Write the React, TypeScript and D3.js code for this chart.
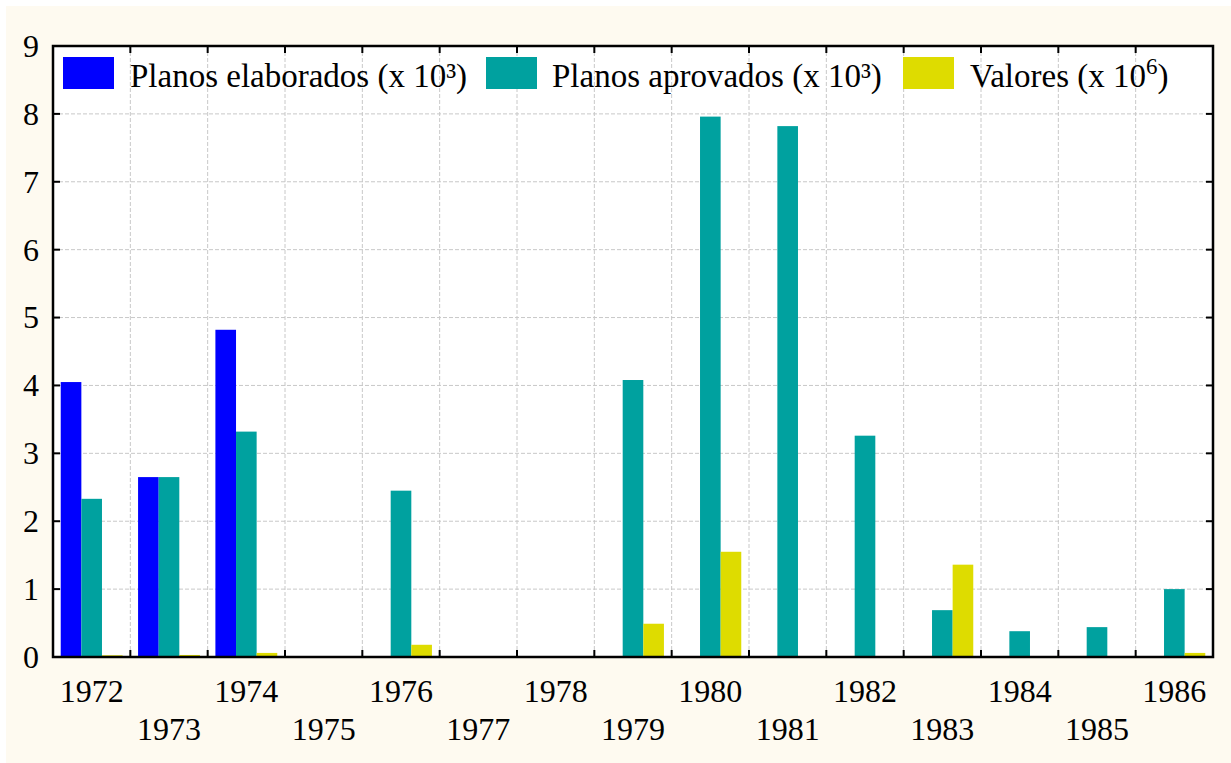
import * as d3 from 'd3';
import {useEffect, useRef} from 'react';

const years = ['1972','1973','1974','1975','1976','1977','1978','1979','1980','1981','1982','1983','1984','1985','1986'];
const planosElaborados = [4.05, 2.65, 4.82, 0, 0, 0, 0, 0, 0, 0, 0, 0, 0, 0, 0];
const planosAprovados = [2.33, 2.65, 3.32, 0, 2.45, 0, 0, 4.08, 7.96, 7.82, 3.26, 0.69, 0.38, 0.44, 1.0];
const valores = [0.025, 0.03, 0.06, 0, 0.18, 0, 0, 0.49, 1.55, 0, 0, 1.36, 0, 0, 0.06];
const yTicks = [0, 1, 2, 3, 4, 5, 6, 7, 8, 9];

const seriesNames = ['elab', 'aprov', 'val'];
const seriesColors = ['#0000ff', '#00a19f', '#dedc00'];

const W = 1231, H = 763;
const FONT = '"Liberation Serif", "Times New Roman", serif';

export default function App() {
  const ref = useRef<SVGSVGElement | null>(null);

  useEffect(() => {
    const svg = d3.select(ref.current);
    svg.selectAll('*').remove();

    const margin = {left: 53, top: 46, right: W - 1213, bottom: H - 657};
    const iw = W - margin.left - margin.right;
    const ih = H - margin.top - margin.bottom;

    // cream background
    svg.append('rect').attr('x', 6).attr('y', 6).attr('width', W - 6).attr('height', H - 6).attr('fill', '#fefaf0');

    const g = svg.append('g').attr('transform', `translate(${margin.left},${margin.top})`);
    g.append('rect').attr('width', iw).attr('height', ih).attr('fill', '#fff');

    const x0 = d3.scaleBand().domain(years).range([0, iw]).paddingInner(0.2).paddingOuter(0.1);
    const x1 = d3.scaleBand().domain(seriesNames).range([0, x0.bandwidth()]);
    const y = d3.scaleLinear().domain([0, 9]).range([ih, 0]);
    const step = x0.step();
    const boundaries = d3.range(1, years.length).map(i => i * step);

    // grid
    g.selectAll('.hgrid').data(yTicks.slice(1, -1)).enter().append('line')
      .attr('x1', 0).attr('x2', iw).attr('y1', d => y(d)).attr('y2', d => y(d))
      .attr('stroke', '#c8c8c8').attr('stroke-width', 1).attr('stroke-dasharray', '4,2');
    g.selectAll('.vgrid').data(boundaries).enter().append('line')
      .attr('x1', d => d).attr('x2', d => d).attr('y1', 0).attr('y2', ih)
      .attr('stroke', '#c8c8c8').attr('stroke-width', 1).attr('stroke-dasharray', '4,2');

    // bars
    const data = years.map((yr, i) => ({yr, vals: [planosElaborados[i], planosAprovados[i], valores[i]]}));
    const grp = g.selectAll('.grp').data(data).enter().append('g')
      .attr('transform', d => `translate(${x0(d.yr)},0)`);
    grp.selectAll('rect').data(d => d.vals.map((v, k) => ({v, k}))).enter().append('rect')
      .attr('x', d => x1(seriesNames[d.k])!)
      .attr('width', x1.bandwidth())
      .attr('y', d => y(d.v))
      .attr('height', d => ih - y(d.v))
      .attr('fill', d => seriesColors[d.k]);

    // ticks (inward)
    const tk = 7;
    yTicks.slice(1, -1).forEach(t => {
      g.append('line').attr('x1', 0).attr('x2', tk).attr('y1', y(t)).attr('y2', y(t)).attr('stroke', '#000').attr('stroke-width', 2);
      g.append('line').attr('x1', iw - tk).attr('x2', iw).attr('y1', y(t)).attr('y2', y(t)).attr('stroke', '#000').attr('stroke-width', 2);
    });
    boundaries.forEach(b => {
      g.append('line').attr('x1', b).attr('x2', b).attr('y1', ih).attr('y2', ih - tk).attr('stroke', '#000').attr('stroke-width', 2);
      g.append('line').attr('x1', b).attr('x2', b).attr('y1', 0).attr('y2', tk).attr('stroke', '#000').attr('stroke-width', 2);
    });

    // frame
    g.append('rect').attr('width', iw).attr('height', ih).attr('fill', 'none').attr('stroke', '#000').attr('stroke-width', 2.5);

    // y labels
    g.selectAll('.ylab').data(yTicks).enter().append('text')
      .attr('x', -14).attr('y', d => y(d)).attr('dy', '0.34em')
      .attr('text-anchor', 'end').attr('font-family', FONT).attr('font-size', 32).attr('fill', '#000')
      .text(d => d);

    // x labels (two staggered rows)
    g.selectAll('.xlab').data(years).enter().append('text')
      .attr('x', d => x0(d)! + x0.bandwidth() / 2)
      .attr('y', (d, i) => (i % 2 === 0 ? 702 : 740) - margin.top)
      .attr('text-anchor', 'middle').attr('font-family', FONT).attr('font-size', 32).attr('fill', '#000')
      .text(d => d);

    // legend
    const legend = [
      {x: 63, tx: 130, label: 'Planos elaborados (x 10³)', sup: ''},
      {x: 486, tx: 552, label: 'Planos aprovados (x 10³)', sup: ''},
      {x: 903, tx: 970, label: 'Valores (x 10', sup: '6'},
    ];
    legend.forEach((l, k) => {
      svg.append('rect').attr('x', l.x).attr('y', 57).attr('width', 51).attr('height', 32).attr('fill', seriesColors[k]);
      const t = svg.append('text').attr('x', l.tx).attr('y', 87)
        .attr('font-family', FONT).attr('font-size', 33).attr('fill', '#000');
      t.append('tspan').text(l.label);
      if (l.sup) {
        t.append('tspan').attr('dy', -13).attr('font-size', 23).text(l.sup);
        t.append('tspan').attr('dy', 13).text(')');
      }
    });
  }, []);

  return (
    <div style={{position: 'absolute', left: 0, top: 0}}>
      <svg ref={ref} width={W} height={H} style={{display: 'block', background: '#fff'}} />
    </div>
  );
}
